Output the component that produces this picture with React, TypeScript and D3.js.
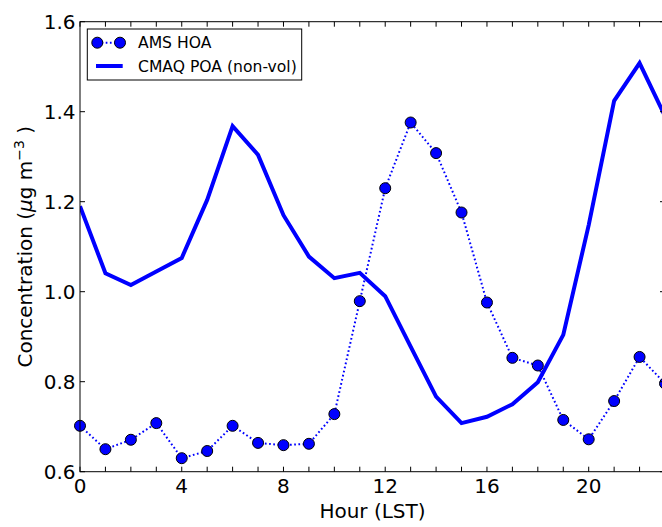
import React from "react";
import * as d3 from "d3";

const hours = d3.range(0, 24);
const amsHoa = [0.702, 0.65, 0.671, 0.708, 0.63, 0.646, 0.702, 0.664, 0.659, 0.662, 0.728, 0.979, 1.23, 1.376, 1.308, 1.176, 0.976, 0.853, 0.836, 0.715, 0.672, 0.757, 0.855, 0.796];
const cmaqPoa = [1.19, 1.041, 1.015, 1.045, 1.075, 1.204, 1.368, 1.304, 1.17, 1.078, 1.03, 1.042, 0.99, 0.878, 0.767, 0.708, 0.722, 0.75, 0.799, 0.904, 1.148, 1.424, 1.508, 1.39];
const xTicks = [0, 4, 8, 12, 16, 20];
const yTicks = [0.6, 0.8, 1.0, 1.2, 1.4, 1.6];
const seriesNames = ["AMS HOA", "CMAQ POA (non-vol)"];

const W = 662, H = 527;
const L = 80, R = 665, T = 21.7, B = 471.7;
const BLUE = "#0000ff";
const FONT = "'DejaVu Sans', sans-serif";
const DOT = "1.7,2.5";

export default function App() {
  const x = d3.scaleLinear().domain([0, 23]).range([L, R]);
  const y = d3.scaleLinear().domain([0.6, 1.6]).range([B, T]);
  const line = d3.line<number>().x((_, i) => x(hours[i])).y((d) => y(d));
  const tl = 5;
  return (
    <svg width={W} height={H} style={{ position: "absolute", left: 0, top: 0, background: "#fff" }} fontFamily={FONT}>
      <rect x={0} y={0} width={W} height={H} fill="#fff" />
      <defs>
        <clipPath id="plot"><rect x={L} y={T} width={R - L} height={B - T} /></clipPath>
      </defs>
      <g clipPath="url(#plot)">
        <path d={line(cmaqPoa) || ""} fill="none" stroke={BLUE} strokeWidth={4} strokeLinejoin="miter" />
        <path d={line(amsHoa) || ""} fill="none" stroke={BLUE} strokeWidth={2} strokeDasharray={DOT} />
      </g>
      {amsHoa.map((v, i) => (
        <circle key={i} cx={x(hours[i])} cy={y(v)} r={5.5} fill={BLUE} stroke="#000" strokeWidth={1} />
      ))}
      <rect x={L} y={T} width={R - L} height={B - T} fill="none" stroke="#000" strokeWidth={1} />
      {hours.map((h) => (
        <g key={h}>
          <line x1={x(h)} x2={x(h)} y1={B} y2={B - tl} stroke="#000" strokeWidth={1} />
          <line x1={x(h)} x2={x(h)} y1={T} y2={T + tl} stroke="#000" strokeWidth={1} />
        </g>
      ))}
      {xTicks.map((t) => (
        <text key={t} x={x(t)} y={492.5} fontSize={20} textAnchor="middle">{t}</text>
      ))}
      {yTicks.map((t) => (
        <g key={t}>
          <line x1={L} x2={L + tl} y1={y(t)} y2={y(t)} stroke="#000" strokeWidth={1} />
          <line x1={R} x2={R - tl} y1={y(t)} y2={y(t)} stroke="#000" strokeWidth={1} />
          <text x={75.5} y={y(t)} fontSize={20} textAnchor="end" dominantBaseline="central">{t.toFixed(1)}</text>
        </g>
      ))}
      <text x={(L + R) / 2} y={518} fontSize={20} textAnchor="middle">Hour (LST)</text>
      <text transform={`translate(31.5,${(T + B) / 2}) rotate(-90)`} fontSize={20} textAnchor="middle">
        Concentration (<tspan fontStyle="italic">μ</tspan>g m<tspan dy={-8} fontSize={14}>−3</tspan><tspan dy={8}> )</tspan>
      </text>
      <rect x={87.3} y={29} width={214.4} height={51} fill="#fff" stroke="#000" strokeWidth={1} />
      <line x1={97.3} x2={120} y1={42.7} y2={42.7} stroke={BLUE} strokeWidth={2} strokeDasharray={DOT} />
      <circle cx={97.3} cy={42.7} r={5.5} fill={BLUE} stroke="#000" strokeWidth={1} />
      <circle cx={120} cy={42.7} r={5.5} fill={BLUE} stroke="#000" strokeWidth={1} />
      <text x={138} y={48.3} fontSize={15.6}>{seriesNames[0]}</text>
      <line x1={96} x2={122.7} y1={66} y2={66} stroke={BLUE} strokeWidth={4} />
      <text x={138} y={71.5} fontSize={15.6}>{seriesNames[1]}</text>
    </svg>
  );
}
